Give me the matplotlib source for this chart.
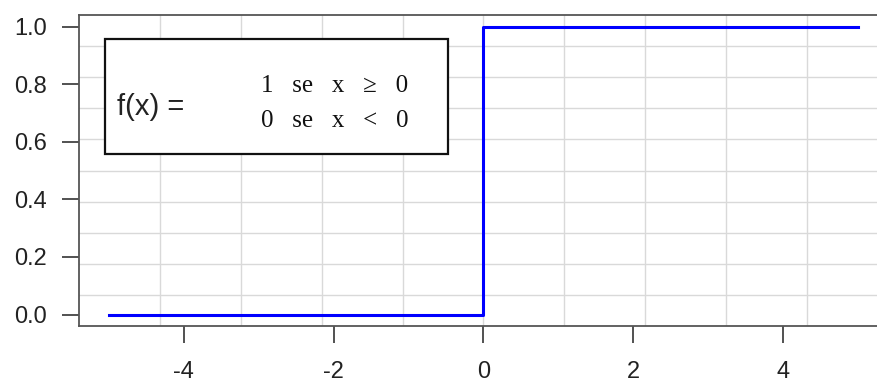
"""Step (Heaviside) function plot, R base-graphics look"""
import numpy as np
import matplotlib.pyplot as plt
from matplotlib.patches import Rectangle

# data
x_vals = [-5, 0, 0, 5]
y_vals = [0, 0, 1, 1]
x_ticks = [-4, -2, 0, 2, 4]
y_ticks = [0.0, 0.2, 0.4, 0.6, 0.8, 1.0]
formula_left = "f(x) ="
formula_lines = ["1   se   x   \u2265   0", "0   se   x   <   0"]

plt.rcParams['font.family'] = ['Liberation Sans', 'DejaVu Sans']

fig = plt.figure(figsize=(8.77, 3.85), dpi=100)
ax = fig.add_axes([0.0901, 0.153, 0.9224, 0.808])

xlim = (-5.4, 5.4)
ylim = (-0.04, 1.04)
ax.set_xlim(*xlim)
ax.set_ylim(*ylim)

# R-style grid: 10 equal divisions across the plot region
for gx in np.linspace(xlim[0], xlim[1], 11)[1:-1]:
    ax.axvline(gx, color='#d9d9d9', lw=1.0, zorder=0)
for gy in np.linspace(ylim[0], ylim[1], 11)[1:-1]:
    ax.axhline(gy, color='#d9d9d9', lw=1.0, zorder=0)

ax.plot(x_vals, y_vals, color='#0000ff', lw=2.2, zorder=3)

# formula box
ax.add_patch(Rectangle((-5.05, 0.559), 4.57, 0.396, fill=True,
                       facecolor='white', edgecolor='#111111', lw=1.6, zorder=4))
ax.text(-4.89, 0.722, formula_left, fontsize=21, va='center', ha='left',
        color='#222222', zorder=5)
for i, line in enumerate(formula_lines):
    ax.text(-2.97, 0.794 - i * 0.1215, line, fontsize=18, va='center', ha='left',
            family=['Liberation Serif', 'DejaVu Serif'], color='#111111', zorder=5)

ax.set_xticks(x_ticks)
ax.set_xticklabels([str(v) for v in x_ticks])
ax.set_yticks(y_ticks)
ax.set_yticklabels([f"{v:.1f}" for v in y_ticks])
ax.tick_params(direction='out', length=12, width=1.2, colors='#333333',
               labelsize=17, labelcolor='#222222')
ax.tick_params(axis='x', pad=13)
ax.tick_params(axis='y', pad=11)

for s in ax.spines.values():
    s.set_color('#555555')
    s.set_linewidth(1.3)

fig.savefig('out.png', dpi=100)
